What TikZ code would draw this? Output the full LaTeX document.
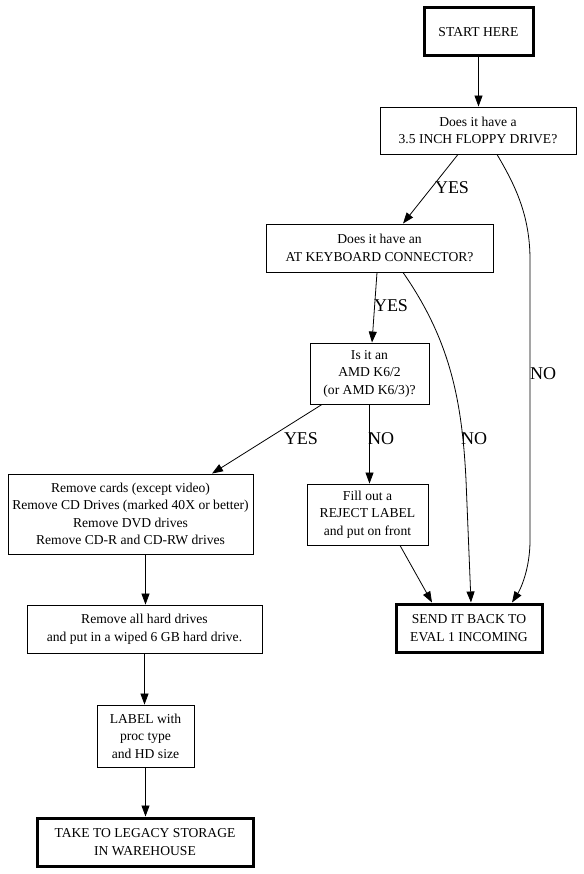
\documentclass[tikz,border=0pt]{standalone}
\usepackage{fontspec}
\setmainfont{Liberation Serif}
\usetikzlibrary{arrows.meta}
\begin{document}
\begin{tikzpicture}[x=1pt,y=-1pt,
  box/.style={draw,line width=0.9pt,inner sep=0pt,align=center,font=\fontsize{13.6}{17.5}\selectfont},
  term/.style={box,line width=3pt},
  edge/.style={line width=0.8pt,-{Triangle[length=11pt,width=8pt]}},
  lab/.style={font=\fontsize{18}{20}\selectfont,inner sep=0pt}]
\useasboundingbox (0,0) rectangle (583,874);
\node[term,minimum width=109,minimum height=48] (start) at (478.5,32) {START HERE};
\node[box,minimum width=196,minimum height=47] (floppy) at (478,130.5) {Does it have a\\3.5 INCH FLOPPY DRIVE?};
\node[box,minimum width=227,minimum height=48] (kb) at (379.5,248) {Does it have an\\AT KEYBOARD CONNECTOR?};
\node[box,minimum width=119,minimum height=61] (amd) at (369.5,373.5) {Is it an\\AMD K6/2\\(or AMD K6/3)?};
\node[box,minimum width=245,minimum height=80] (cards) at (130.5,514) {Remove cards (except video)\\Remove CD Drives (marked 40X or better)\\Remove DVD drives\\Remove CD-R and CD-RW drives};
\node[box,minimum width=121,minimum height=61] (reject) at (367.5,514.5) {Fill out a\\REJECT LABEL\\and put on front};
\node[box,minimum width=235,minimum height=48] (hd) at (144.5,629) {Remove all hard drives\\and put in a wiped 6 GB hard drive.};
\node[term,minimum width=146,minimum height=48] (send) at (469,628) {SEND IT BACK TO\\EVAL 1 INCOMING};
\node[box,minimum width=97,minimum height=62] (label) at (145.5,736) {LABEL with\\proc type\\and HD size};
\node[term,minimum width=216,minimum height=48] (take) at (145,842) {TAKE TO LEGACY STORAGE\\IN WAREHOUSE};

\draw[edge] (start.south) -- (start.south |- floppy.north);
\draw[edge] ([xshift=-20pt]floppy.south) -- ([xshift=23.5pt]kb.north);
\draw[edge] ([xshift=19pt]floppy.south) .. controls (515,185) and (530,215) .. (530,260) -- (530,540) .. controls (530,570) and (520,590) .. ([xshift=43pt]send.north);
\draw[edge] ([xshift=-2.5pt]kb.south) -- ([xshift=2.5pt]amd.north);
\draw[edge] ([xshift=23.5pt]kb.south) .. controls (450,340) and (462,400) .. (466,480) -- ([xshift=2pt]send.north);
\draw[edge] ([xshift=-47.5pt]amd.south) -- ([xshift=81.5pt]cards.north);
\draw[edge] (amd.south) -- (amd.south |- reject.north);
\draw[edge] ([xshift=32.5pt]reject.south) -- ([xshift=-37pt]send.north);
\draw[edge] ([xshift=15pt]cards.south) -- ([xshift=15pt]cards.south |- hd.north);
\draw[edge] (hd.south) -- (hd.south |- label.north);
\draw[edge] (label.south) -- (label.south |- take.north);

\node[lab] (l1) at (452,188) {YES};
\node[lab] (l2) at (543,374) {NO};
\node[lab] (l3) at (391,306) {YES};
\node[lab] (l4) at (474,439) {NO};
\node[lab] (l5) at (301,439) {YES};
\node[lab] (l6) at (381,439) {NO};
\end{tikzpicture}
\end{document}
